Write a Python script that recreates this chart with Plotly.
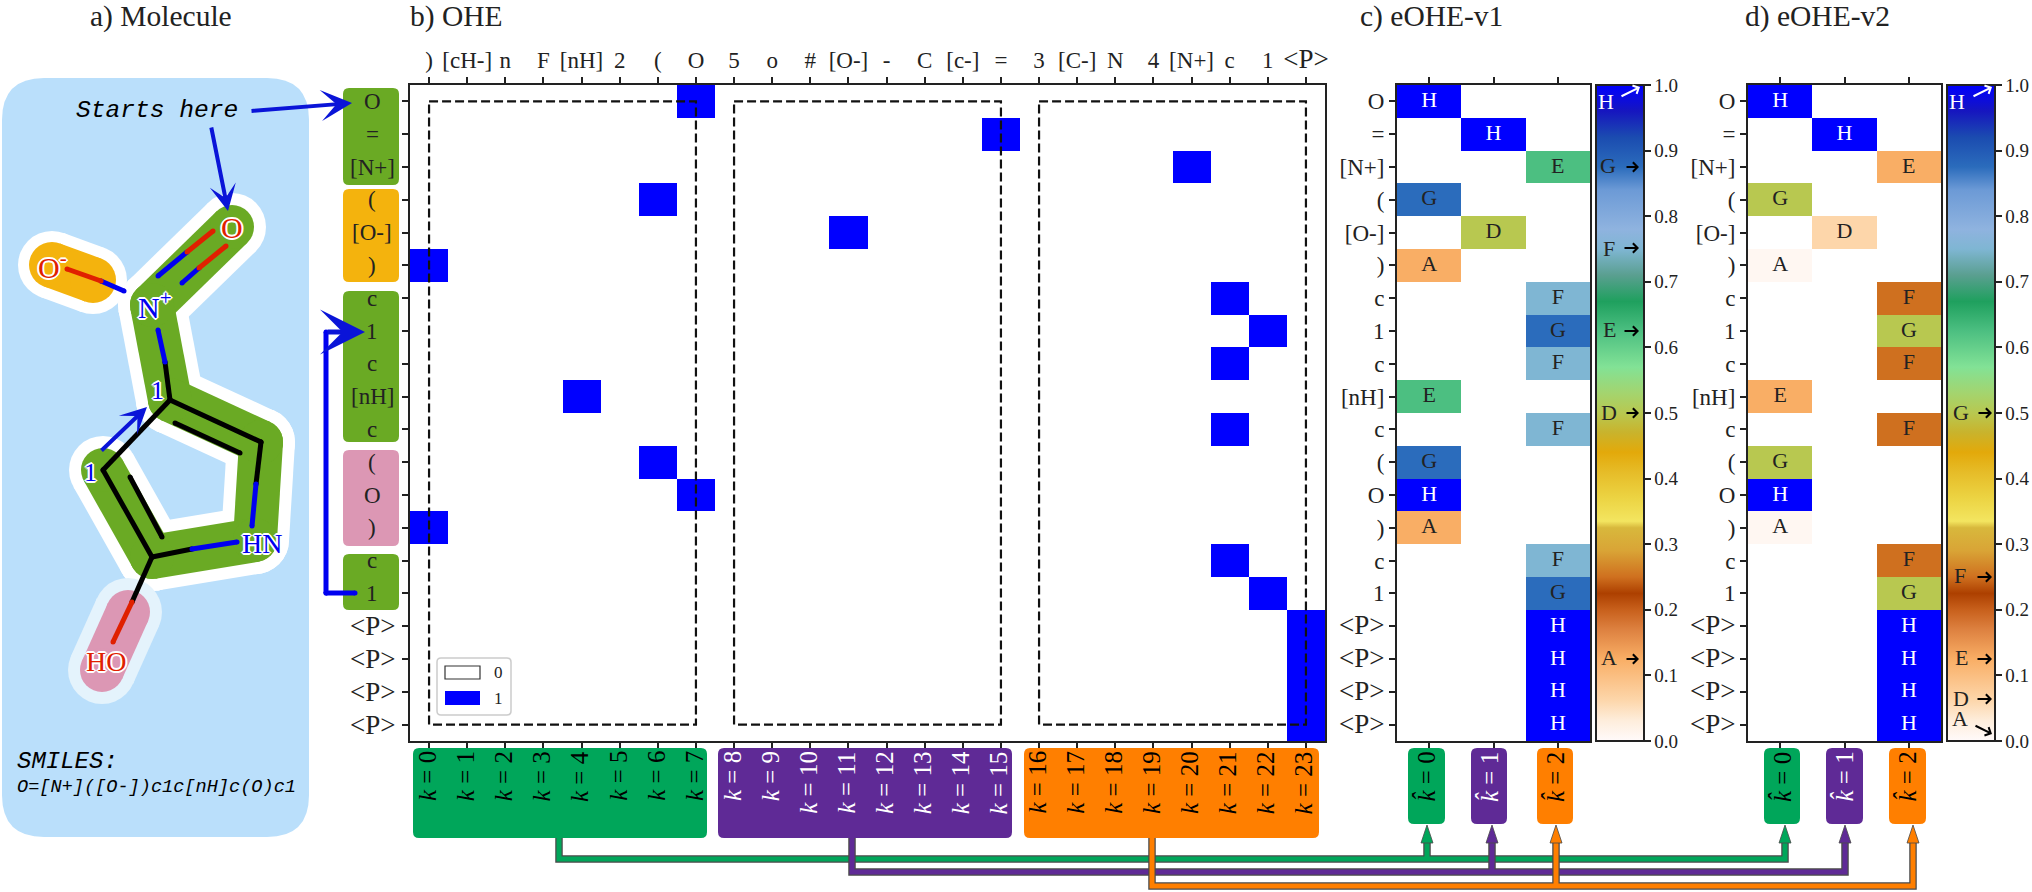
import plotly.graph_objects as go

W, H = 2032, 892
SERIF = "Liberation Serif"
MONO = "Liberation Mono"
INK = "#222222"
BLUE = "#0000ff"

# ---------- data ----------
tokens = ["O", "=", "[N+]", "(", "[O-]", ")", "c", "1", "c", "[nH]", "c", "(", "O", ")", "c", "1",
          "<P>", "<P>", "<P>", "<P>"]
vocab = [")", "[cH-]", "n", "F", "[nH]", "2", "(", "O", "5", "o", "#", "[O-]", "-", "C", "[c-]", "=",
         "3", "[C-]", "N", "4", "[N+]", "c", "1", "<P>"]
hat_k = [0, 1, 2, 0, 1, 0, 2, 2, 2, 0, 2, 0, 0, 0, 2, 2, 2, 2, 2, 2]
letters = ["H", "H", "E", "G", "D", "A", "F", "G", "F", "E", "F", "G", "H", "A", "F", "G", "H", "H", "H", "H"]
v1_values = {"A": 0.125, "D": 0.5, "E": 0.625, "F": 0.75, "G": 0.875, "H": 1.0}
v2_values = {"A": 0.0078, "D": 0.0625, "E": 0.125, "F": 0.25, "G": 0.5, "H": 1.0}
group_start = [0, 8, 16]
group_end = [7, 15, 23]
cbar_ticks = [0.0, 0.1, 0.2, 0.3, 0.4, 0.5, 0.6, 0.7, 0.8, 0.9, 1.0]
cmap = [
    [0.0, "#fffafa"], [0.03, "#feeedd"], [0.0625, "#fdd6aa"], [0.125, "#f9ae65"], [0.17, "#dd8140"],
    [0.2, "#c8601c"], [0.225, "#ad4000"], [0.25, "#cf701f"], [0.29, "#d9a436"], [0.325, "#d8b83c"],
    [0.335, "#f3e560"], [0.37, "#ecd443"], [0.41, "#e6bc28"], [0.44, "#e3a90a"], [0.47, "#c9b32c"],
    [0.5, "#b8c850"], [0.53, "#a4d46e"], [0.57, "#82e296"], [0.625, "#4cbf81"], [0.67, "#1fa05e"],
    [0.71, "#5a9f90"], [0.75, "#7fb6d3"], [0.78, "#8fb3df"], [0.84, "#6c9ad6"], [0.875, "#2b6cbc"],
    [0.92, "#1b4cb0"], [0.96, "#1616bf"], [1.0, "#0000ff"],
]

# boxes beside / below the matrices: x0, x1, y0, y1, colour
token_boxes = [(343, 399, 88, 185, "#6aaa24"), (343, 399, 189, 282, "#f4b30d"), (343, 399, 291, 442, "#6aaa24"),
               (343, 399, 450, 546, "#dc97b4"), (343, 399, 554, 610, "#6aaa24")]
GREEN, PURPLE, ORANGE = "#00a65a", "#5f2a96", "#ff7f00"
k_boxes = [(413, 707, 748, 838, GREEN), (718, 1012, 748, 838, PURPLE), (1024, 1319, 748, 838, ORANGE)]
khat_boxes_c = [(1408, 1445, 748, 824, GREEN), (1471, 1507, 748, 824, PURPLE), (1537, 1573, 748, 824, ORANGE)]
khat_boxes_d = [(1764, 1800, 748, 824, GREEN), (1826, 1863, 748, 824, PURPLE), (1889, 1926, 748, 824, ORANGE)]

# molecule sketch, in figure pixels
chain_x = [232, 152, 170, 261, 255, 152, 103]
chain_y = [227, 305, 400, 442, 540, 557, 470]
oxide_x, oxide_y = [52, 93], [265, 280]
hydroxyl_x, hydroxyl_y = [128, 102], [612, 670]
black_bonds = [([165, 170, 261, 256], [362, 400, 442, 484]), ([170, 103, 152, 192], [400, 470, 557, 549]),
               ([130, 162], [477, 537]), ([175, 240], [423, 453]), ([152, 132], [557, 602])]
blue_bonds = [([158, 165], [330, 362]), ([158, 187], [276, 252]), ([182, 199], [283, 268]),
              ([124, 101], [291, 281]), ([252, 256], [526, 484]), ([192, 237], [549, 542])]
red_bonds = [([187, 213], [252, 231]), ([199, 226], [268, 246]), ([101, 67], [281, 269]), ([132, 113], [602, 642])]
ring_link_x, ring_link_y = [355, 326, 326], [593, 593, 332]

# connector routes
route_green = dict(x0=559, y=859, c=1427, d=1785)
route_purple = dict(x0=852, y=872, c=1492, d=1845)
route_orange = dict(x0=1152, y=886, c=1556, d=1913)

# ---------- helpers ----------
def xdom(a, b):
    return [a / W, b / W]

def ydom(a, b):
    return [1 - b / H, 1 - a / H]

def rounded(x0, x1, y0, y1, r):
    return (f"M{x0+r},{y0} L{x1-r},{y0} Q{x1},{y0} {x1},{y0+r} L{x1},{y1-r} Q{x1},{y1} {x1-r},{y1} "
            f"L{x0+r},{y1} Q{x0},{y1} {x0},{y1-r} L{x0},{y0+r} Q{x0},{y0} {x0+r},{y0} Z")

def esc(t):
    if t == "<P>":
        return '<span style="font-size:27px">&lt;P&gt;</span>'
    return t

fig = go.Figure()
shapes, notes = [], []

def box(x0, x1, y0, y1, color, r=6, layer="below", line=None, lw=0):
    shapes.append(dict(type="path", path=rounded(x0, x1, y0, y1, r), xref="x6", yref="y6", fillcolor=color,
                       line=dict(color=line or color, width=lw), layer=layer))

def label(x, y, text, size=22, color=INK, family=SERIF, xanchor="center", yanchor="middle", angle=0, shadow=None):
    font = dict(family=family, size=size, color=color)
    if shadow:
        font["shadow"] = shadow
    notes.append(dict(x=x, y=y, xref="x6", yref="y6", text=text, showarrow=False, font=font, xanchor=xanchor,
                      yanchor=yanchor, textangle=angle, borderpad=0, borderwidth=0))

def arrow(x0, y0, x1, y1, color="#000000", width=2, head=4, size=1.0):
    notes.append(dict(x=x1, y=y1, ax=x0, ay=y0, xref="x6", yref="y6", axref="x6", ayref="y6", text="",
                      showarrow=True, arrowhead=head, arrowwidth=width, arrowcolor=color, arrowsize=size))

def stroke(xs, ys, color, width):
    # one gap-separated piece per segment, so that corners come out round
    sx, sy = [], []
    for i in range(len(xs) - 1):
        sx += [xs[i], xs[i + 1], None]
        sy += [ys[i], ys[i + 1], None]
    fig.add_trace(go.Scatter(x=sx, y=sy, xaxis="x6", yaxis="y6", mode="lines+markers",
                             line=dict(color=color, width=width), marker=dict(color=color, size=width),
                             hoverinfo="skip", showlegend=False, connectgaps=False))

# ---------- matrices ----------
n, m = len(tokens), len(vocab)
rows = list(range(n))

ohe_z = [[1 if vocab[j] == tokens[i] else 0 for j in range(m)] for i in range(n)]
fig.add_trace(go.Heatmap(z=ohe_z, x=list(range(m)), y=rows, zmin=0, zmax=1, xaxis="x", yaxis="y",
                         colorscale=[[0, "#ffffff"], [1, BLUE]], showscale=False, hoverinfo="skip"))

def enhanced(values, xa, ya, caxis):
    z = [[None] * 3 for _ in rows]
    for i in rows:
        z[i][hat_k[i]] = values[letters[i]]
    fig.add_trace(go.Heatmap(z=z, x=[0, 1, 2], y=rows, xaxis=xa, yaxis=ya, coloraxis=caxis, hoverinfo="skip"))
    fig.add_trace(go.Scatter(x=hat_k, y=rows, xaxis=xa, yaxis=ya, mode="text", text=letters, hoverinfo="skip",
                             showlegend=False,
                             textfont=dict(family=SERIF, size=22,
                                           color=["#ffffff" if c == "H" else INK for c in letters])))

enhanced(v1_values, "x2", "y2", "coloraxis")
enhanced(v2_values, "x3", "y3", "coloraxis2")

# invisible trace to realise the full-figure pixel layer
fig.add_trace(go.Scatter(x=[0, W], y=[0, H], xaxis="x6", yaxis="y6", mode="none", hoverinfo="skip", showlegend=False))

# ---------- molecule ----------
box(2, 309, 78, 837, "#badffb", r=42)
stroke(chain_x, chain_y, "#ffffff", 68)
stroke(oxide_x, oxide_y, "#ffffff", 68)
stroke(hydroxyl_x, hydroxyl_y, "#e4f3fc", 68)
stroke(chain_x, chain_y, "#6aaa24", 44)
stroke(oxide_x, oxide_y, "#f4b30d", 46)
stroke(hydroxyl_x, hydroxyl_y, "#dc97b4", 44)
for xs, ys in black_bonds:
    stroke(xs, ys, "#000000", 5)
for xs, ys in blue_bonds:
    stroke(xs, ys, "#0000f0", 5)
for xs, ys in red_bonds:
    stroke(xs, ys, "#e02000", 5)

halo = "1px 1px 0 #fff, -1px -1px 0 #fff, 1px -1px 0 #fff, -1px 1px 0 #fff, 2px 0 0 #fff, -2px 0 0 #fff, 0 2px 0 #fff, 0 -2px 0 #fff"
label(232, 227, "O", 30, "#e02000", shadow=halo)
label(52, 265, "O<sup>-</sup>", 30, "#e02000", shadow=halo)
label(155, 305, "N<sup>+</sup>", 30, "#0000f0", shadow=halo)
label(157, 390, "1", 26, "#0000f0", shadow=halo)
label(90, 472, "1", 26, "#0000f0", shadow=halo)
label(262, 543, "HN", 28, "#0000f0", shadow=halo)
label(106, 661, "HO", 28, "#e02000", shadow=halo)

label(157, 110, "<i>Starts here</i>", 24.6, "#000000", MONO)
label(17, 761, "<i>SMILES:</i>", 24, "#000000", MONO, xanchor="left")
label(17, 787, "<i>O=[N+]([O-])c1c[nH]c(O)c1</i>", 18.6, "#000000", MONO, xanchor="left")
arrow(250, 111, 352, 103, "#0a14d8", 4, 3, 1.3)
arrow(211, 126, 228, 211, "#0a14d8", 4, 3, 1.1)
arrow(100, 452, 147, 407, "#0a14d8", 4, 3, 1.1)
stroke(ring_link_x, ring_link_y, "#0000f0", 5)
arrow(326, 332, 365, 332, "#0a14d8", 5, 3, 1.5)

# ---------- boxes and their labels ----------
for x0, x1, y0, y1, c in token_boxes + k_boxes + khat_boxes_c + khat_boxes_d:
    box(x0, x1, y0, y1, c)

b_x0, b_x1, top, bottom = 410, 1325, 85, 741
row_px = (bottom - top) / n
for i, t in enumerate(tokens):
    label(372, top + (i + 0.5) * row_px, esc(t), 23)

col_px = (b_x1 - b_x0) / m
for k in range(m):
    c = "#ffffff" if group_start[1] <= k <= group_end[1] else "#000000"
    label(b_x0 + (k + 0.5) * col_px - 2, 751, f"<i>k</i> = {k}", 25, c, yanchor="top", angle=-90)

for boxes in (khat_boxes_c, khat_boxes_d):
    for idx, (x0, x1, y0, y1, c) in enumerate(boxes):
        label((x0 + x1) / 2, 752, f"<i>k\u0302</i> = {idx}", 25, "#ffffff" if idx == 1 else "#000000",
              yanchor="top", angle=-90)

# ---------- titles ----------
label(90, 16, "a) Molecule", 29.5, xanchor="left")
label(410, 16, "b) OHE", 29.5, xanchor="left")
label(1360, 16, "c) eOHE-v1", 29.5, xanchor="left")
label(1745, 16, "d) eOHE-v2", 29.5, xanchor="left")

# ---------- dashed groups on OHE ----------
for s, e in zip(group_start, group_end):
    shapes.append(dict(type="rect", xref="x", yref="y", x0=s, x1=e, y0=0, y1=n - 1,
                       line=dict(color="#111111", width=2.2, dash="9px,4px"), layer="above"))

# ---------- legend of OHE ----------
box(437, 511, 658, 715, "#ffffff", r=4, layer="above", line="#cccccc", lw=1.5)
shapes.append(dict(type="rect", xref="x6", yref="y6", x0=445, x1=480, y0=666, y1=679, fillcolor="#ffffff",
                   line=dict(color="#333333", width=1.2), layer="above"))
shapes.append(dict(type="rect", xref="x6", yref="y6", x0=445, x1=480, y0=691, y1=705, fillcolor=BLUE,
                   line=dict(color=BLUE, width=0), layer="above"))
label(498, 672, "0", 17)
label(498, 698, "1", 17)

# ---------- colourbar notes ----------
cbar_notes_c = [("F", 1609, 248, 1623, 248, 1639, 248), ("G", 1608, 165, 1625, 167, 1639, 167),
                ("E", 1609, 329, 1623, 331, 1639, 331), ("D", 1609, 412, 1625, 413, 1639, 413),
                ("A", 1609, 657, 1625, 659, 1639, 659)]
cbar_notes_d = [("G", 1961, 412, 1977, 413, 1992, 413), ("F", 1960, 575, 1976, 577, 1992, 577),
                ("E", 1961, 657, 1976, 659, 1992, 659), ("D", 1961, 698, 1976, 699, 1992, 699),
                ("A", 1960, 718, 1974, 725, 1992, 734)]
for t, lx, ly, ax, ay, bx, by in cbar_notes_c + cbar_notes_d:
    label(lx, ly, t, 22)
    arrow(ax, ay, bx, by, "#000000", 2, 4, 0.9)
label(1606, 101, "H", 22, "#ffffff")
arrow(1620, 97, 1640, 87, "#ffffff", 2, 4, 0.9)
label(1957, 101, "H", 22, "#ffffff")
arrow(1972, 97, 1992, 87, "#ffffff", 2, 4, 0.9)

# ---------- connectors ----------
EDGE = "#4a4a4a"
for route, color in ((route_green, GREEN), (route_purple, PURPLE), (route_orange, ORANGE)):
    x0, y, xc, xd = route["x0"], route["y"], route["c"], route["d"]
    for col, w in ((EDGE, 7.5), (color, 5)):
        for xs, ys in (([x0, x0, xd, xd], [838, y, y, 843]), ([xc, xc], [y, 843])):
            fig.add_trace(go.Scatter(x=xs, y=ys, xaxis="x6", yaxis="y6", mode="lines", hoverinfo="skip",
                                     line=dict(color=col, width=w), showlegend=False))
    for tip in (xc, xd):
        shapes.append(dict(type="path", xref="x6", yref="y6", layer="above", fillcolor=color,
                           path=f"M{tip-6},843 L{tip},825 L{tip+6},843 Z", line=dict(color=EDGE, width=0.8)))

# ---------- axes ----------
def base_axis(**kw):
    d = dict(showline=True, linecolor=INK, linewidth=2, ticks="outside", ticklen=6, tickwidth=2, tickcolor=INK,
             showgrid=False, zeroline=False, tickfont=dict(family=SERIF, size=23, color=INK), automargin=False)
    d.update(kw)
    return d

def colorbar(x):
    return dict(x=x / W, xanchor="left", xpad=0, ypad=0, y=1 - bottom / H, yanchor="bottom", lenmode="pixels",
                len=bottom - top, thickness=48, thicknessmode="pixels", outlinewidth=2, outlinecolor=INK,
                ticks="outside", ticklen=6, tickwidth=2, tickcolor=INK, tickmode="array", tickvals=cbar_ticks,
                ticktext=[f"{v:.1f}" for v in cbar_ticks], tickfont=dict(family=SERIF, size=19, color=INK))

rev = [n - 0.5, -0.5]
fig.update_layout(
    width=W, height=H, margin=dict(l=0, r=0, t=0, b=0, autoexpand=False), paper_bgcolor="#ffffff",
    plot_bgcolor="rgba(0,0,0,0)", showlegend=False,
    xaxis=base_axis(domain=xdom(b_x0, b_x1), range=[-0.5, m - 0.5], side="top", mirror="ticks", tickmode="array",
                    tickvals=list(range(m)), ticktext=[esc(v) for v in vocab], anchor="y", tickangle=0),
    yaxis=base_axis(domain=ydom(top, bottom), range=rev, tickmode="array", tickvals=rows, showticklabels=False,
                    mirror=True, anchor="x"),
    xaxis2=base_axis(domain=xdom(1397, 1590), range=[-0.5, 2.5], side="top", mirror="ticks", tickmode="array",
                     tickvals=[0, 1, 2], showticklabels=False, anchor="y2"),
    yaxis2=base_axis(domain=ydom(top, bottom), range=rev, tickmode="array", tickvals=rows, mirror=True, anchor="x2",
                     ticktext=[esc(t) for t in tokens]),
    xaxis3=base_axis(domain=xdom(1748, 1941), range=[-0.5, 2.5], side="top", mirror="ticks", tickmode="array",
                     tickvals=[0, 1, 2], showticklabels=False, anchor="y3"),
    yaxis3=base_axis(domain=ydom(top, bottom), range=rev, tickmode="array", tickvals=rows, mirror=True, anchor="x3",
                     ticktext=[esc(t) for t in tokens]),
    xaxis6=dict(domain=[0, 1], range=[0, W], visible=False, anchor="y6", fixedrange=True),
    yaxis6=dict(domain=[0, 1], range=[H, 0], visible=False, anchor="x6", fixedrange=True),
    coloraxis=dict(colorscale=cmap, cmin=0, cmax=1, colorbar=colorbar(1596)),
    coloraxis2=dict(colorscale=cmap, cmin=0, cmax=1, colorbar=colorbar(1947)),
    shapes=shapes, annotations=notes,
)

fig.write_html("out.html", config=dict(displayModeBar=False),
               post_script="document.body.style.margin='0';document.documentElement.style.overflow='hidden';")
